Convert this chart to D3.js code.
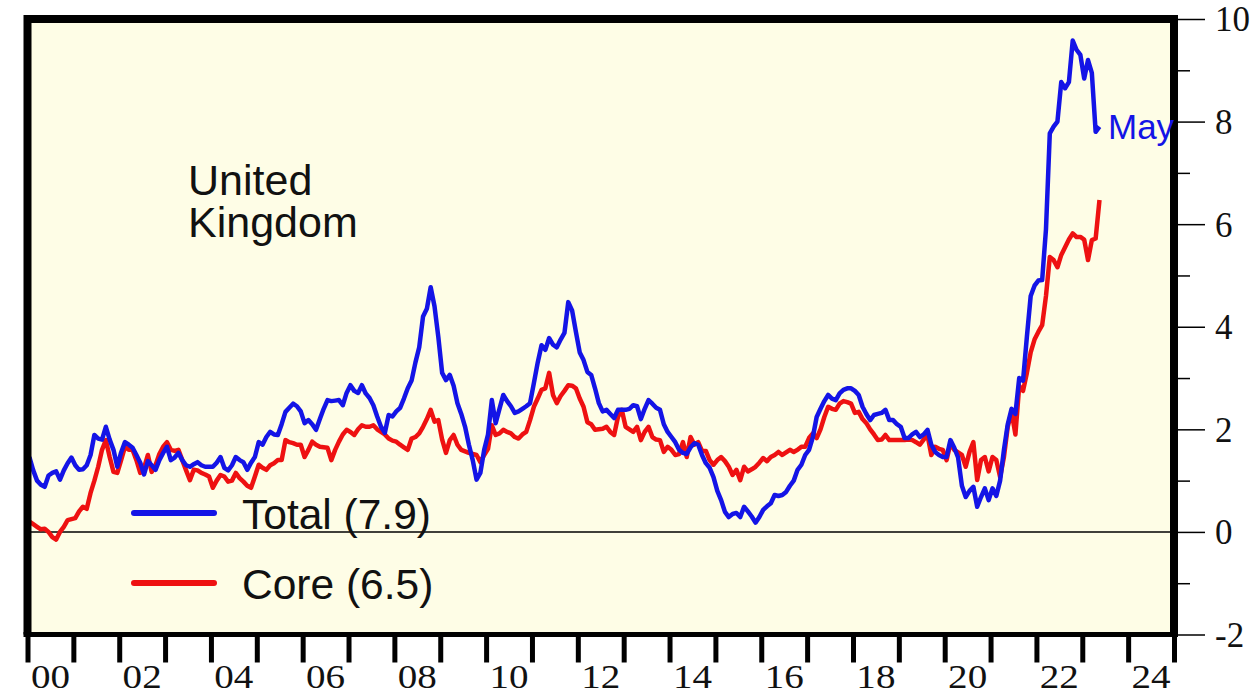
<!DOCTYPE html>
<html lang="en">
<head>
<meta charset="UTF-8">
<title>United Kingdom CPIH inflation</title>
<script src="https://d3js.org/d3.v7.min.js"></script>
<style>
    body { margin: 0; background: #ffffff; }
    svg { display: block; }
</style>
</head>
<body>
<svg id="chart" width="1260" height="696"></svg>
<script>
// monthly data, Jan 2000 .. May 2023 (annual % change)
const startYear = 2000;
const total = [
    1.46, 1.2, 1.0, 0.92, 0.88, 1.1, 1.15, 1.18, 1.02, 1.2, 1.34, 1.45,
    1.3, 1.21, 1.22, 1.3, 1.5, 1.89, 1.82, 1.8, 2.05, 1.8, 1.6, 1.27,
    1.55, 1.75, 1.7, 1.64, 1.5, 1.35, 1.12, 1.38, 1.3, 1.21, 1.4, 1.54,
    1.66, 1.4, 1.45, 1.54, 1.4, 1.3, 1.27, 1.32, 1.36, 1.3, 1.27, 1.27,
    1.27, 1.35, 1.46, 1.25, 1.2, 1.3, 1.46, 1.4, 1.36, 1.21, 1.35, 1.46,
    1.75, 1.7, 1.85, 1.95, 1.9, 1.89, 2.1, 2.34, 2.42, 2.5, 2.45, 2.35,
    2.12, 2.18, 2.1, 1.99, 2.2, 2.4, 2.57, 2.55, 2.56, 2.57, 2.47, 2.71,
    2.86, 2.75, 2.71, 2.86, 2.7, 2.61, 2.47, 2.25, 2.05, 1.93, 2.28, 2.25,
    2.35, 2.42, 2.6, 2.8, 2.95, 3.3, 3.6, 4.2, 4.35, 4.77, 4.4, 3.8,
    3.1, 2.96, 3.06, 2.85, 2.51, 2.3, 2.05, 1.7, 1.4, 1.02, 1.15, 1.6,
    1.9, 2.57, 2.12, 2.4, 2.67, 2.55, 2.45, 2.32, 2.35, 2.4, 2.45, 2.51,
    2.9, 3.3, 3.64, 3.55, 3.78, 3.65, 3.6, 3.75, 3.88, 4.48, 4.32, 3.9,
    3.5, 3.35, 3.12, 3.06, 2.8, 2.51, 2.35, 2.38, 2.3, 2.22, 2.38, 2.38,
    2.38, 2.4, 2.47, 2.45, 2.2, 2.4, 2.57, 2.5, 2.42, 2.38, 2.1, 1.95,
    1.85, 1.75, 1.6, 1.54, 1.52, 1.65, 1.73, 1.7, 1.5, 1.34, 1.25, 1.07,
    0.8, 0.62, 0.39, 0.29, 0.35, 0.37, 0.29, 0.49, 0.4, 0.3, 0.18, 0.29,
    0.43, 0.5, 0.56, 0.72, 0.7, 0.72, 0.78, 0.9, 1.0, 1.21, 1.31, 1.5,
    1.6, 1.85, 2.24, 2.4, 2.55, 2.67, 2.6, 2.57, 2.7, 2.77, 2.8, 2.8,
    2.75, 2.67, 2.44, 2.3, 2.18, 2.28, 2.3, 2.32, 2.38, 2.18, 2.18, 2.1,
    2.05, 1.83, 1.83, 1.9, 1.95, 1.85, 1.9, 1.99, 1.7, 1.56, 1.5, 1.46,
    1.46, 1.79, 1.64, 1.45, 0.9, 0.68, 0.8, 0.88, 0.49, 0.68, 0.85, 0.62,
    0.85, 0.7, 1.0, 1.6, 2.1, 2.4, 2.3, 3.0, 2.95, 3.8, 4.6, 4.8,
    4.9, 4.91, 5.9, 7.77, 7.9, 8.0, 8.77, 8.65, 8.77, 9.58, 9.4, 9.3,
    8.84, 9.2, 8.95, 7.8, 7.9
];
const core = [
    0.2, 0.15, 0.1, 0.05, 0.06, 0.0, -0.1, -0.15, 0.0, 0.1, 0.23, 0.25,
    0.27, 0.4, 0.49, 0.45, 0.76, 1.0, 1.27, 1.6, 1.79, 1.46, 1.17, 1.15,
    1.4, 1.66, 1.6, 1.6, 1.4, 1.15, 1.25, 1.5, 1.17, 1.3, 1.52, 1.66,
    1.75, 1.6, 1.58, 1.6, 1.4, 1.2, 1.01, 1.21, 1.2, 1.15, 1.12, 1.08,
    0.86, 1.0, 1.11, 1.08, 0.98, 1.0, 1.15, 1.05, 0.98, 0.9, 0.86, 1.08,
    1.31, 1.25, 1.21, 1.3, 1.34, 1.4, 1.4, 1.79, 1.75, 1.73, 1.7, 1.7,
    1.46, 1.6, 1.76, 1.7, 1.66, 1.65, 1.64, 1.4, 1.6, 1.76, 1.9, 1.99,
    1.95, 1.89, 2.0, 2.08, 2.05, 2.05, 2.08, 2.0, 1.95, 1.9, 1.82, 1.78,
    1.76, 1.7, 1.65, 1.6, 1.82, 1.85, 1.92, 2.05, 2.2, 2.38, 2.15, 2.18,
    1.8, 1.54, 1.79, 1.89, 1.7, 1.6, 1.57, 1.54, 1.52, 1.5, 1.36, 1.5,
    1.62, 2.08, 1.89, 1.92, 1.99, 1.95, 1.92, 1.85, 1.82, 1.9, 1.95, 2.18,
    2.44, 2.6, 2.77, 2.8, 3.1, 2.67, 2.51, 2.65, 2.75, 2.86, 2.85, 2.8,
    2.6, 2.44, 2.14, 2.1, 1.99, 2.0, 2.01, 2.05, 1.95, 1.89, 2.24, 2.38,
    2.05, 2.0, 1.95, 2.05, 1.79, 1.95, 2.05, 1.85, 1.8, 1.79, 1.56, 1.66,
    1.6, 1.5, 1.52, 1.75, 1.46, 1.85, 1.7, 1.75, 1.58, 1.58, 1.4, 1.31,
    1.4, 1.46, 1.38, 1.27, 1.11, 1.21, 1.01, 1.27, 1.18, 1.22, 1.27, 1.35,
    1.44, 1.38, 1.46, 1.5, 1.56, 1.5, 1.55, 1.6, 1.56, 1.6, 1.66, 1.66,
    1.83, 1.92, 1.83, 2.0, 2.24, 2.44, 2.4, 2.38, 2.5, 2.55, 2.53, 2.5,
    2.32, 2.34, 2.2, 2.12, 2.0, 1.9, 1.79, 1.8, 1.89, 1.79, 1.79, 1.79,
    1.79, 1.79, 1.8, 1.79, 1.75, 1.7, 1.8, 1.89, 1.5, 1.66, 1.62, 1.6,
    1.4, 1.73, 1.6, 1.55, 1.5, 1.27, 1.56, 1.75, 1.01, 1.4, 1.46, 1.18,
    1.46, 1.4, 1.07, 1.46, 2.05, 2.34, 1.9, 2.85, 2.75, 3.1, 3.5, 3.75,
    3.9, 4.03, 4.6, 5.36, 5.3, 5.16, 5.4, 5.55, 5.7, 5.82, 5.75, 5.75,
    5.7, 5.3, 5.69, 5.72, 6.47
];
const yearTicks = d3.range(2000, 2026);
const yearLabels = ["00", "02", "04", "06", "08", "10", "12", "14", "16", "18", "20", "22", "24"];
const majorY = [-2, 0, 2, 4, 6, 8, 10];
const minorY = [-1, 1, 3, 5, 7, 9];
const seriesNames = ["Total (7.9)", "Core (6.5)"];
const colors = ["#1414e6", "#ee1111"];

const svg = d3.select("#chart");
const plotL = 27.5, plotR = 1174, plotT = 19, plotB = 634.5;

const x = d3.scaleLinear().domain([2000, 2025]).range([plotL, plotR]);
const y = d3.scaleLinear().domain([-2, 10]).range([plotB, plotT]);
const when = i => startYear + (i + 0.5) / 12;

// background panel
svg.append("rect")
    .attr("x", plotL).attr("y", plotT)
    .attr("width", plotR - plotL).attr("height", plotB - plotT)
    .attr("fill", "#fefde6");

// zero line
svg.append("line")
    .attr("x1", plotL).attr("x2", plotR)
    .attr("y1", y(0)).attr("y2", y(0))
    .attr("stroke", "#000").attr("stroke-width", 1.5);

// lines
const line = d3.line().x((d, i) => x(when(i))).y(d => y(d));
[core, total].forEach((s, k) => {
    svg.append("path")
        .datum(s)
        .attr("d", line)
        .attr("fill", "none")
        .attr("stroke", k === 0 ? colors[1] : colors[0])
        .attr("stroke-width", 4.5)
        .attr("stroke-linejoin", "round");
});

// frame
svg.append("path")
    .attr("d", `M${plotL},${plotB}V${plotT}H${plotR}V${plotB}`)
    .attr("fill", "none").attr("stroke", "#000").attr("stroke-width", 8);
svg.append("line")
    .attr("x1", plotL - 4).attr("x2", plotR + 4)
    .attr("y1", plotB).attr("y2", plotB)
    .attr("stroke", "#000").attr("stroke-width", 5);

// right axis
const yMinor = svg.append("g")
    .attr("transform", `translate(${plotR + 4},0)`)
    .call(d3.axisRight(y).tickValues(minorY).tickSize(12).tickFormat(""));
const yMajor = svg.append("g")
    .attr("transform", `translate(${plotR + 4},0)`)
    .call(d3.axisRight(y).tickValues(majorY).tickSize(27).tickPadding(10)
        .tickFormat(d => String(d)));
[yMinor, yMajor].forEach(g => {
    g.select(".domain").remove();
    g.selectAll(".tick line").attr("stroke", "#000").attr("stroke-width", 1.5);
});
yMajor.selectAll(".tick text")
    .attr("fill", "#111")
    .attr("dy", "0.34em")
    .style("font-family", "'Liberation Serif', 'Times New Roman', serif")
    .style("font-size", "35px");

// bottom axis
const xAxis = svg.append("g")
    .attr("transform", `translate(0,${plotB + 2})`)
    .call(d3.axisBottom(x).tickValues(yearTicks).tickSize(26).tickFormat(""));
xAxis.select(".domain").remove();
xAxis.selectAll(".tick line").attr("stroke", "#000").attr("stroke-width", 5);

svg.append("g").selectAll("text")
    .data(yearLabels)
    .join("text")
    .attr("transform", d => `translate(${x(2000 + +d + 0.5)},688) scale(1.15,1)`)
    .attr("text-anchor", "middle")
    .attr("fill", "#111")
    .style("font-family", "'Liberation Serif', 'Times New Roman', serif")
    .style("font-size", "34px")
    .text(d => d);

// country title
const title = svg.append("text")
    .attr("x", 188).attr("y", 195)
    .attr("fill", "#111")
    .style("font-family", "'Liberation Sans', Arial, sans-serif")
    .style("font-size", "43px");
title.append("tspan").attr("x", 188).text("United");
title.append("tspan").attr("x", 188).attr("dy", 42).text("Kingdom");

// legend
const legend = svg.append("g");
[0, 1].forEach(k => {
    const ly = 513 + k * 70;
    legend.append("line")
        .attr("x1", 134).attr("x2", 214)
        .attr("y1", ly).attr("y2", ly)
        .attr("stroke", colors[k]).attr("stroke-width", 6)
        .attr("stroke-linecap", "round");
    legend.append("text")
        .attr("x", 242).attr("y", ly + 16)
        .attr("fill", "#111")
        .style("font-family", "'Liberation Sans', Arial, sans-serif")
        .style("font-size", "42.5px")
        .text(seriesNames[k]);
});

// last-month label
svg.append("text")
    .attr("x", 1108).attr("y", 139)
    .attr("fill", colors[0])
    .style("font-family", "'Liberation Sans', Arial, sans-serif")
    .style("font-size", "35px")
    .text("May");
</script>
</body>
</html>
